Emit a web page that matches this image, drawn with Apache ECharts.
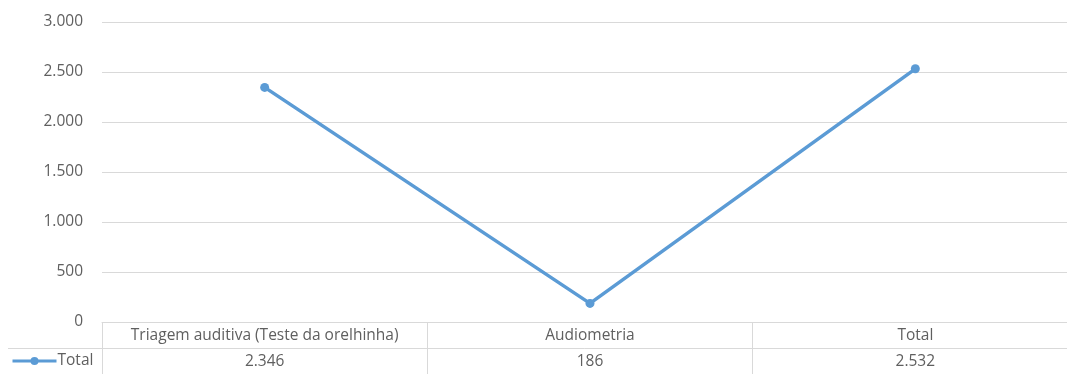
<!DOCTYPE html>
<html>
<head>
<meta charset="utf-8">
<script src="https://cdn.jsdelivr.net/npm/echarts@6/dist/echarts.min.js"></script>
<style>
  html, body { margin: 0; padding: 0; background: #ffffff; }
  #chart { width: 1067px; height: 374px; }
</style>
</head>
<body>
<div id="chart"></div>
<script>
var categories = ['Triagem auditiva (Teste da orelhinha)', 'Audiometria', 'Total'];
var seriesName = 'Total';
var seriesValues = [2346, 186, 2532];
var yTicks = { min: 0, max: 3000, interval: 500 };

function fmt(v) {
  return String(v).replace(/\B(?=(\d{3})+(?!\d))/g, '.');
}

var FONT = 'Open Sans';
var FS = 15.5;
var TXT = '#5f5f5f';
var GRID = '#d9d9d9';

var chart = echarts.init(document.getElementById('chart'), null, { renderer: 'canvas' });
chart.setOption({
  backgroundColor: '#ffffff',
  animation: false,
  grid: { left: 102, top: 22, width: 976, height: 300, containLabel: false, outerBoundsMode: 'none' },
  legend: {
    left: 11, top: 353, padding: 0,
    itemWidth: 44, itemHeight: 10, itemGap: 0,
    lineStyle: { width: 3 },
    textStyle: { color: TXT, fontFamily: FONT, fontSize: FS, padding: [0, 0, 0, -4] },
    data: [seriesName]
  },
  graphic: [
    { type: 'line', shape: { x1: 8, y1: 348.5, x2: 102, y2: 348.5 }, style: { stroke: GRID, lineWidth: 1 }, silent: true }
  ],
  xAxis: [
    {
      type: 'category', data: categories, position: 'bottom', boundaryGap: true,
      axisLine: { show: true, lineStyle: { color: GRID, width: 1 } },
      axisTick: { show: true, interval: 0, length: 52, lineStyle: { color: GRID } },
      axisLabel: { interval: 0, color: TXT, fontFamily: FONT, fontSize: FS, margin: 6 },
      splitLine: { show: false }
    },
    {
      type: 'category', data: seriesValues.map(fmt), position: 'bottom', offset: 26, boundaryGap: true,
      axisLine: { show: true, lineStyle: { color: GRID, width: 1 } },
      axisTick: { show: false },
      axisLabel: { interval: 0, color: TXT, fontFamily: FONT, fontSize: FS, margin: 6 },
      splitLine: { show: false }
    }
  ],
  yAxis: {
    type: 'value', min: yTicks.min, max: yTicks.max, interval: yTicks.interval,
    axisLine: { show: false }, axisTick: { show: false },
    axisLabel: { color: TXT, fontFamily: FONT, fontSize: FS, margin: 19, formatter: function (v) { return fmt(v); } },
    splitLine: { show: true, lineStyle: { color: GRID, width: 1 } }
  },
  series: [{
    name: seriesName, type: 'line', xAxisIndex: 0, data: seriesValues,
    color: '#5B9BD5',
    lineStyle: { color: '#5B9BD5', width: 3.5 },
    itemStyle: { color: '#5B9BD5' },
    symbol: 'circle', symbolSize: 9, showSymbol: true
  }]
});
</script>
</body>
</html>
